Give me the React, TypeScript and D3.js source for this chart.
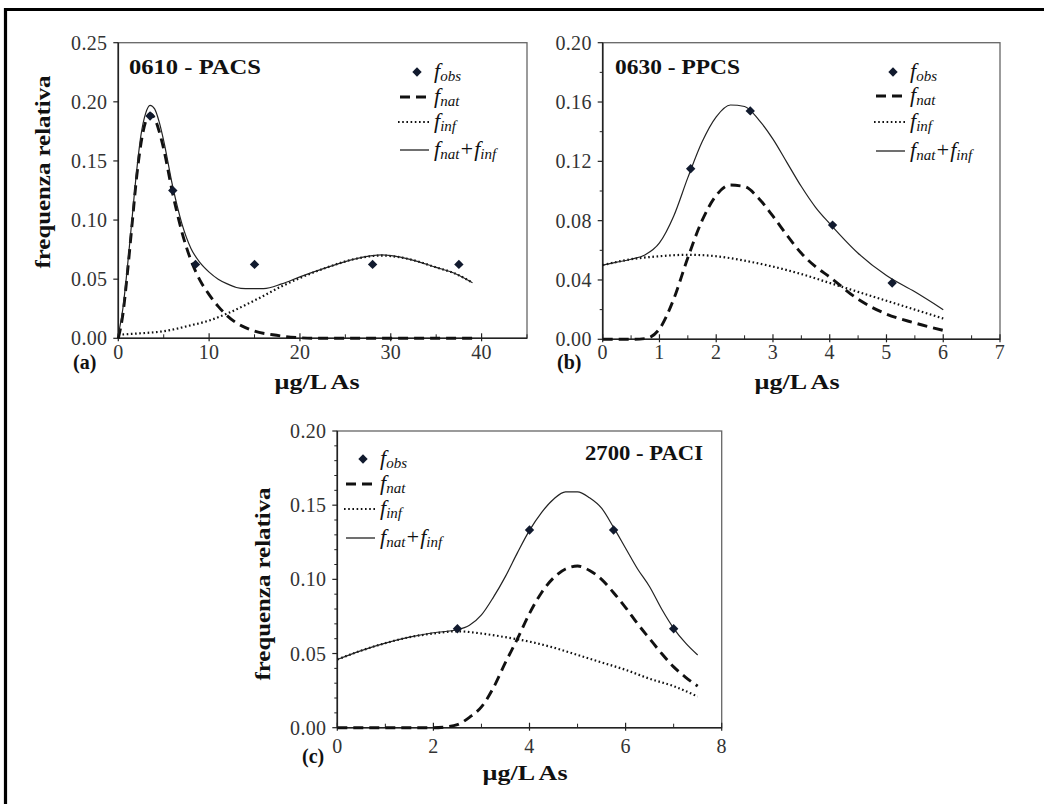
import React from "react";
import * as d3 from "d3";

// ---------- Panel (a) 0610 - PACS ----------
const A_OBS_X = [3.5, 6, 8.5, 15, 28, 37.5];
const A_OBS_Y = [0.188, 0.125, 0.0625, 0.0625, 0.0625, 0.0625];
const A_NAT_X = [0, 0.5, 1, 1.5, 2, 2.5, 3, 3.5, 4, 4.5, 5, 6, 7, 8, 9, 10, 11, 12, 13, 14, 15, 17, 19, 22, 26, 30, 35, 39];
const A_NAT_Y = [0, 0.02, 0.055, 0.095, 0.135, 0.165, 0.183, 0.19, 0.186, 0.175, 0.16, 0.122, 0.09, 0.066, 0.049, 0.037, 0.027, 0.019, 0.013, 0.009, 0.006, 0.003, 0.001, 0, 0, 0, 0, 0];
const A_INF_X = [0, 2, 5, 8, 10, 12, 15, 18, 20, 23, 26, 29, 32, 35, 37, 39];
const A_INF_Y = [0.003, 0.004, 0.006, 0.011, 0.015, 0.021, 0.032, 0.044, 0.051, 0.06, 0.067, 0.07, 0.067, 0.06, 0.055, 0.047];
const A_SUM_X = [0, 0.5, 1, 1.5, 2, 2.5, 3, 3.5, 4, 4.5, 5, 6, 7, 8, 9, 10, 11, 12, 13, 14, 15, 16, 18, 20, 23, 26, 29, 32, 35, 37, 39];
const A_SUM_Y = [0.003, 0.025, 0.06, 0.1, 0.14, 0.172, 0.19, 0.197, 0.194, 0.183, 0.167, 0.128, 0.097, 0.076, 0.064, 0.056, 0.05, 0.046, 0.043, 0.042, 0.042, 0.042, 0.046, 0.052, 0.06, 0.067, 0.0705, 0.067, 0.06, 0.055, 0.047];
const A_X_TICKS = [0, 10, 20, 30, 40];
const A_X_MINOR = [5, 15, 25, 35, 45];
const A_Y_TICKS = [0, 0.05, 0.1, 0.15, 0.2, 0.25];
const A_Y_MINOR: number[] = [];

// ---------- Panel (b) 0630 - PPCS ----------
const B_OBS_X = [1.55, 2.6, 4.05, 5.1];
const B_OBS_Y = [0.115, 0.154, 0.077, 0.038];
const B_NAT_X = [0, 0.5, 0.75, 1, 1.25, 1.5, 1.75, 2, 2.25, 2.5, 2.75, 3, 3.25, 3.5, 3.75, 4, 4.5, 5, 5.5, 6];
const B_NAT_Y = [0, 0, 0.0005, 0.007, 0.027, 0.055, 0.08, 0.097, 0.104, 0.103, 0.095, 0.083, 0.07, 0.058, 0.049, 0.042, 0.027, 0.017, 0.011, 0.006];
const B_INF_X = [0, 0.5, 1, 1.5, 2, 2.5, 3, 3.5, 4, 4.5, 5, 5.5, 6];
const B_INF_Y = [0.05, 0.054, 0.056, 0.057, 0.056, 0.053, 0.049, 0.044, 0.038, 0.032, 0.026, 0.02, 0.014];
const B_SUM_X = [0, 0.25, 0.5, 0.75, 1, 1.25, 1.5, 1.75, 2, 2.25, 2.5, 2.75, 3, 3.25, 3.5, 3.75, 4, 4.5, 5, 5.5, 6];
const B_SUM_Y = [0.05, 0.052, 0.054, 0.057, 0.065, 0.083, 0.109, 0.133, 0.15, 0.158, 0.157, 0.148, 0.135, 0.119, 0.103, 0.089, 0.078, 0.058, 0.043, 0.032, 0.02];
const B_X_TICKS = [0, 1, 2, 3, 4, 5, 6, 7];
const B_X_MINOR = [0.5, 1.5, 2.5, 3.5, 4.5, 5.5, 6.5];
const B_Y_TICKS = [0, 0.04, 0.08, 0.12, 0.16, 0.2];
const B_Y_MINOR = [0.02, 0.06, 0.1, 0.14, 0.18];

// ---------- Panel (c) 2700 - PACI ----------
const C_OBS_X = [2.5, 4, 5.75, 7];
const C_OBS_Y = [0.0667, 0.1333, 0.1333, 0.0667];
const C_NAT_X = [0, 1, 2, 2.25, 2.5, 2.75, 3, 3.25, 3.5, 3.75, 4, 4.25, 4.5, 4.75, 5, 5.25, 5.5, 5.75, 6, 6.25, 6.5, 6.75, 7, 7.25, 7.5];
const C_NAT_Y = [0, 0, 0, 0.0005, 0.002, 0.007, 0.014, 0.027, 0.044, 0.06, 0.077, 0.091, 0.101, 0.107, 0.109, 0.106, 0.1, 0.091, 0.081, 0.07, 0.06, 0.05, 0.041, 0.034, 0.028];
const C_INF_X = [0, 0.5, 1, 1.5, 2, 2.5, 3, 3.5, 4, 4.5, 5, 5.5, 6, 6.5, 7, 7.5];
const C_INF_Y = [0.046, 0.052, 0.057, 0.061, 0.0635, 0.065, 0.0635, 0.061, 0.058, 0.054, 0.049, 0.044, 0.039, 0.033, 0.028, 0.021];
const C_SUM_X = [0, 0.5, 1, 1.5, 2, 2.5, 2.75, 3, 3.25, 3.5, 3.75, 4, 4.25, 4.5, 4.75, 5, 5.25, 5.5, 5.75, 6, 6.25, 6.5, 6.75, 7, 7.25, 7.5];
const C_SUM_Y = [0.046, 0.052, 0.057, 0.061, 0.064, 0.066, 0.069, 0.076, 0.088, 0.102, 0.118, 0.133, 0.145, 0.154, 0.159, 0.159, 0.155, 0.148, 0.135, 0.121, 0.107, 0.095, 0.08, 0.067, 0.057, 0.049];
const C_X_TICKS = [0, 2, 4, 6, 8];
const C_X_MINOR = [1, 3, 5, 7];
const C_Y_TICKS = [0, 0.05, 0.1, 0.15, 0.2];
const C_Y_MINOR = [0.01, 0.02, 0.03, 0.04, 0.06, 0.07, 0.08, 0.09, 0.11, 0.12, 0.13, 0.14, 0.16, 0.17, 0.18, 0.19];

const LEGEND_KEYS = ["obs", "nat", "inf", "sum"];
const X_TITLE = "µg/L  As";
const Y_TITLE = "frequenza relativa";

const SERIF = "Liberation Serif";

type PanelProps = {
  left: number; top: number; right: number; bottom: number;
  xMax: number; yMax: number;
  xTicks: number[]; xMinor: number[]; yTicks: number[]; yMinor: number[];
  obsX: number[]; obsY: number[];
  natX: number[]; natY: number[];
  infX: number[]; infY: number[];
  sumX: number[]; sumY: number[];
  title: string; titleX: number; titleY: number; titleLen: number;
  letter: string; letterX: number; letterY: number;
  tickY: number;
  xTitleX: number; xTitleY: number;
  yTitleX?: number; yTitleY?: number;
  legX: number; legRows: number[];
};

function LegendLabel({ x, y, k }: { x: number; y: number; k: string }) {
  const main = 22, sub = 15;
  const style = { fontFamily: SERIF, fontStyle: "italic" as const, fill: "#111" };
  if (k === "sum") {
    return (
      <text x={x} y={y} style={style} fontSize={main}>
        <tspan>f</tspan>
        <tspan dy={3} fontSize={sub}>nat</tspan>
        <tspan dy={-3}>+f</tspan>
        <tspan dy={3} fontSize={sub}>inf</tspan>
      </text>
    );
  }
  return (
    <text x={x} y={y} style={style} fontSize={main}>
      <tspan>f</tspan>
      <tspan dy={3} fontSize={sub}>{k}</tspan>
    </text>
  );
}

function Panel(p: PanelProps) {
  const x = d3.scaleLinear().domain([0, p.xMax]).range([p.left, p.right]);
  const y = d3.scaleLinear().domain([0, p.yMax]).range([p.bottom, p.top]);
  const mk = (xs: number[], ys: number[]) =>
    d3.line<number>().x((_, i) => x(xs[i])).y((_, i) => y(ys[i])).curve(d3.curveMonotoneX)(xs.map((_, i) => i)) || "";
  const diamond = d3.symbol().type(d3.symbolSquare).size(44)() || "";
  const fmt = d3.format(".2f");
  const tickStyle = { fontFamily: SERIF, fill: "#333" };
  const boldStyle = { fontFamily: SERIF, fontWeight: "bold" as const, fill: "#111" };
  return (
    <g>
      <rect x={p.left} y={p.top} width={p.right - p.left} height={p.bottom - p.top} fill="none" stroke="#666" strokeWidth={1.3} />
      <line x1={p.left} x2={p.left} y1={p.top} y2={p.bottom} stroke="#222" strokeWidth={1.6} />
      <line x1={p.left} x2={p.right} y1={p.bottom} y2={p.bottom} stroke="#222" strokeWidth={1.6} />
      {p.yTicks.map((t) => (
        <g key={"yt" + t}>
          <line x1={p.left - 5} x2={p.left} y1={y(t)} y2={y(t)} stroke="#222" strokeWidth={1.2} />
          <text x={p.left - 11} y={y(t) + 7} textAnchor="end" fontSize={20} style={tickStyle} letterSpacing={0.3}>{fmt(t)}</text>
        </g>
      ))}
      {p.yMinor.map((t) => (
        <line key={"ym" + t} x1={p.left - 3} x2={p.left} y1={y(t)} y2={y(t)} stroke="#222" strokeWidth={1} />
      ))}
      {p.xTicks.map((t) => (
        <g key={"xt" + t}>
          <line x1={x(t)} x2={x(t)} y1={p.bottom - 5} y2={p.bottom + 3} stroke="#222" strokeWidth={1.2} />
          <text x={x(t)} y={p.tickY} textAnchor="middle" fontSize={20} style={tickStyle} letterSpacing={0.3}>{t}</text>
        </g>
      ))}
      {p.xMinor.map((t) => (
        <line key={"xm" + t} x1={x(t)} x2={x(t)} y1={p.bottom - 4} y2={p.bottom} stroke="#222" strokeWidth={1} />
      ))}
      <path d={mk(p.infX, p.infY)} fill="none" stroke="#111" strokeWidth={2.2} strokeDasharray="1.6 2.6" />
      <path d={mk(p.natX, p.natY)} fill="none" stroke="#111" strokeWidth={2.9} strokeDasharray="10 6" />
      <path d={mk(p.sumX, p.sumY)} fill="none" stroke="#222" strokeWidth={1.2} />
      {p.obsX.map((v, i) => (
        <path key={"o" + i} d={diamond} transform={`translate(${x(v)},${y(p.obsY[i])}) rotate(45)`} fill="#111a2e" />
      ))}
      <text x={p.titleX} y={p.titleY} fontSize={22} style={boldStyle} textLength={p.titleLen} lengthAdjust="spacingAndGlyphs">{p.title}</text>
      <text x={p.letterX} y={p.letterY} fontSize={20} style={boldStyle}>{p.letter}</text>
      <text x={p.xTitleX} y={p.xTitleY} textAnchor="middle" fontSize={21} style={boldStyle} textLength={85} lengthAdjust="spacingAndGlyphs">{X_TITLE}</text>
      {p.yTitleX !== undefined && p.yTitleY !== undefined && (
        <text transform={`translate(${p.yTitleX},${p.yTitleY}) rotate(-90)`} textAnchor="middle" fontSize={22} style={boldStyle} textLength={193} lengthAdjust="spacingAndGlyphs">{Y_TITLE}</text>
      )}
      {LEGEND_KEYS.map((k, i) => {
        const ry = p.legRows[i];
        const lx = p.legX;
        return (
          <g key={"lg" + k}>
            {k === "obs" && <path d={diamond} transform={`translate(${lx - 16},${ry}) rotate(45)`} fill="#111a2e" />}
            {k === "nat" && <line x1={lx - 33} x2={lx - 4} y1={ry} y2={ry} stroke="#111" strokeWidth={2.9} strokeDasharray="10 6" />}
            {k === "inf" && <line x1={lx - 35} x2={lx - 3} y1={ry} y2={ry} stroke="#111" strokeWidth={2.2} strokeDasharray="1.6 2.6" />}
            {k === "sum" && <line x1={lx - 33} x2={lx - 4} y1={ry} y2={ry} stroke="#222" strokeWidth={1.3} />}
            <LegendLabel x={lx + 1} y={ry + 6} k={k} />
          </g>
        );
      })}
    </g>
  );
}

export default function App() {
  return (
    <svg width={1044} height={804} style={{ position: "absolute", left: 0, top: 0, background: "#fff" }}>
      <rect x={0} y={0} width={1044} height={804} fill="#fff" />
      <line x1={4} x2={1044} y1={9.5} y2={9.5} stroke="#000" strokeWidth={3.2} />
      <line x1={5.5} x2={5.5} y1={8} y2={804} stroke="#000" strokeWidth={3.2} />

      <Panel
        left={118.3} top={42.7} right={527} bottom={338.3}
        xMax={45} yMax={0.25}
        xTicks={A_X_TICKS} xMinor={A_X_MINOR} yTicks={A_Y_TICKS} yMinor={A_Y_MINOR}
        obsX={A_OBS_X} obsY={A_OBS_Y} natX={A_NAT_X} natY={A_NAT_Y}
        infX={A_INF_X} infY={A_INF_Y} sumX={A_SUM_X} sumY={A_SUM_Y}
        title="0610 - PACS" titleX={129} titleY={74} titleLen={132}
        letter="(a)" letterX={73} letterY={369}
        tickY={359}
        xTitleX={317} xTitleY={389}
        yTitleX={50} yTitleY={172}
        legX={433} legRows={[72, 97, 122, 150]}
      />
      <Panel
        left={602.7} top={42.7} right={1000} bottom={339.3}
        xMax={7} yMax={0.2}
        xTicks={B_X_TICKS} xMinor={B_X_MINOR} yTicks={B_Y_TICKS} yMinor={B_Y_MINOR}
        obsX={B_OBS_X} obsY={B_OBS_Y} natX={B_NAT_X} natY={B_NAT_Y}
        infX={B_INF_X} infY={B_INF_Y} sumX={B_SUM_X} sumY={B_SUM_Y}
        title="0630 - PPCS" titleX={615} titleY={74} titleLen={125}
        letter="(b)" letterX={557} letterY={369}
        tickY={359}
        xTitleX={797} xTitleY={389}
        legX={909} legRows={[72, 96, 122, 151]}
      />
      <Panel
        left={337.3} top={431} right={721.7} bottom={727.7}
        xMax={8} yMax={0.2}
        xTicks={C_X_TICKS} xMinor={C_X_MINOR} yTicks={C_Y_TICKS} yMinor={C_Y_MINOR}
        obsX={C_OBS_X} obsY={C_OBS_Y} natX={C_NAT_X} natY={C_NAT_Y}
        infX={C_INF_X} infY={C_INF_Y} sumX={C_SUM_X} sumY={C_SUM_Y}
        title="2700 - PACI" titleX={585} titleY={460} titleLen={118}
        letter="(c)" letterX={302} letterY={763}
        tickY={753}
        xTitleX={525} xTitleY={780}
        yTitleX={270} yTitleY={584}
        legX={379} legRows={[459, 484, 509, 538]}
      />
    </svg>
  );
}
